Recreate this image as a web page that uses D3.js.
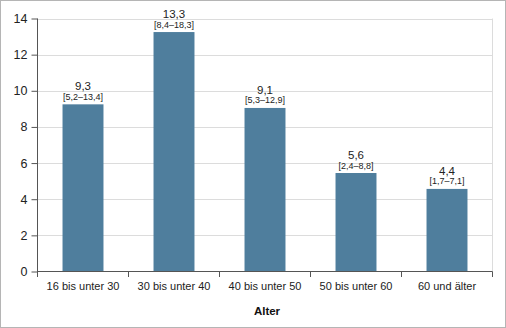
<!DOCTYPE html>
<html>
<head>
<meta charset="utf-8">
<script src="https://cdn.jsdelivr.net/npm/d3@7"></script>
<style>
  html, body { margin: 0; padding: 0; background: #fff; }
  svg { display: block; font-family: "Liberation Sans", Arial, sans-serif; }
</style>
</head>
<body>
<div id="chart"></div>
<script>
const categories = ["16 bis unter 30", "30 bis unter 40", "40 bis unter 50", "50 bis unter 60", "60 und älter"];
const barValues = [9.25, 13.25, 9.05, 5.45, 4.57];
const valueLabels = ["9,3", "13,3", "9,1", "5,6", "4,4"];
const ciLabels = ["[5,2–13,4]", "[8,4–18,3]", "[5,3–12,9]", "[2,4–8,8]", "[1,7–7,1]"];
const yTicks = [0, 2, 4, 6, 8, 10, 12, 14];
const xTitle = "Alter";

const W = 506, H = 328;
const svg = d3.select("#chart").append("svg").attr("width", W).attr("height", H);

// outer frame
svg.append("rect").attr("x", 0.5).attr("y", 0.5).attr("width", W - 1).attr("height", H - 1)
  .attr("fill", "#fff").attr("stroke", "#b5b5b5");

const x = d3.scaleBand().domain(categories).range([37.5, 492.5]).padding(0);
const y = d3.scaleLinear().domain([0, 14]).range([271.5, 18.5]);

// gridlines
svg.append("g").selectAll("line").data(yTicks.filter(d => d > 0)).join("line")
  .attr("x1", 37.5).attr("x2", 492.5)
  .attr("y1", d => Math.round(y(d)) + 0.5).attr("y2", d => Math.round(y(d)) + 0.5)
  .attr("stroke", "#dcdcdc");
// right frame of plot
svg.append("line").attr("x1", 492.5).attr("x2", 492.5).attr("y1", y(14)).attr("y2", y(0))
  .attr("stroke", "#dcdcdc");

// bars
const bw = x.bandwidth();
svg.append("g").selectAll("rect").data(categories).join("rect")
  .attr("x", (d) => x(d) + bw * 0.275)
  .attr("width", bw * 0.45)
  .attr("y", (d, i) => y(barValues[i]))
  .attr("height", (d, i) => y(0) - y(barValues[i]))
  .attr("fill", "#4f7e9d");

// value labels
const lab = svg.append("g").attr("fill", "#222").attr("text-anchor", "middle");
lab.selectAll("text.v").data(categories).join("text").attr("class", "v")
  .attr("x", d => x(d) + bw / 2)
  .attr("y", (d, i) => y(barValues[i]) - 14)
  .attr("font-size", 11.5)
  .text((d, i) => valueLabels[i]);
lab.selectAll("text.c").data(categories).join("text").attr("class", "c")
  .attr("x", d => x(d) + bw / 2)
  .attr("y", (d, i) => y(barValues[i]) - 4.5)
  .attr("font-size", 9)
  .text((d, i) => ciLabels[i]);

// y axis
const yAxis = d3.axisLeft(y).tickValues(yTicks).tickSize(6).tickPadding(4).tickFormat(d3.format("d"));
const gy = svg.append("g").attr("transform", "translate(37.5,0)").call(yAxis);
gy.select(".domain").remove();
gy.selectAll(".tick line").attr("stroke", "#555");
gy.selectAll(".tick text").attr("font-size", 12.5).attr("fill", "#222")
  .attr("font-family", "\"Liberation Sans\", Arial, sans-serif");
svg.append("line").attr("x1", 37.5).attr("x2", 37.5).attr("y1", y(14)).attr("y2", y(0) + 5.5)
  .attr("stroke", "#555");

// x axis
const xAxis = d3.axisBottom(x).tickSize(0).tickPadding(11);
const gx = svg.append("g").attr("transform", `translate(0,${y(0)})`).call(xAxis);
gx.select(".domain").remove();
gx.selectAll(".tick text").attr("font-size", 11).attr("fill", "#222")
  .attr("font-family", "\"Liberation Sans\", Arial, sans-serif");
svg.append("line").attr("x1", 37.5).attr("x2", 492.5).attr("y1", y(0)).attr("y2", y(0)).attr("stroke", "#555");
const bounds = categories.map(d => x(d)).concat([x.range()[1]]);
svg.append("g").selectAll("line").data(bounds.slice(1)).join("line")
  .attr("x1", d => Math.round(d - 0.5) + 0.5).attr("x2", d => Math.round(d - 0.5) + 0.5)
  .attr("y1", y(0)).attr("y2", y(0) + 5.5).attr("stroke", "#555");

// x title
svg.append("text").attr("x", (37.5 + 492.5) / 2 + 2).attr("y", 315)
  .attr("text-anchor", "middle").attr("font-size", 11.5).attr("font-weight", "bold")
  .attr("fill", "#111").text(xTitle);
</script>
</body>
</html>
